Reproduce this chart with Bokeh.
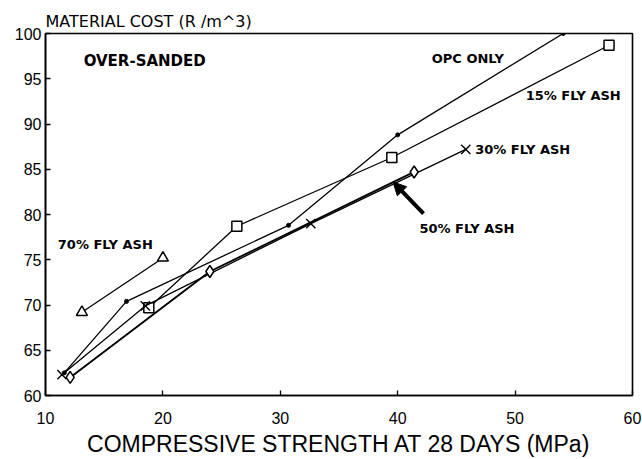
from bokeh.plotting import figure
from bokeh.models import Label, Arrow, NormalHead, FixedTicker
from bokeh.embed import file_html
from bokeh.resources import INLINE

# data
opc_x = [11.6, 16.9, 30.7, 40.0, 54.1]
opc_y = [62.5, 70.4, 78.8, 88.8, 100.0]
fa15_x = [18.8, 26.3, 39.5, 58.0]
fa15_y = [69.7, 78.7, 86.3, 98.7]
fa30_x = [11.4, 18.5, 32.6, 45.8]
fa30_y = [62.3, 69.9, 79.0, 87.2]
fa50_x = [12.1, 24.0, 41.4]
fa50_y = [62.0, 73.7, 84.7]
fa70_x = [13.1, 20.0]
fa70_y = [69.2, 75.2]
x_ticks = [10, 20, 30, 40, 50, 60]
y_ticks = [60, 65, 70, 75, 80, 85, 90, 95, 100]

FONT = "Liberation Sans"
BFONT = "DejaVu Sans"

p = figure(width=642, height=459, x_range=(10, 60), y_range=(60, 100),
           output_backend="svg", toolbar_location=None,
           min_border_left=45, min_border_right=10, min_border_top=33, min_border_bottom=0)
p.grid.visible = False
p.outline_line_color = "black"
p.outline_line_width = 1.6

p.title.text = "MATERIAL COST (R /m^3)"
p.title.text_font = BFONT
p.title.text_font_style = "normal"
p.title.text_font_size = "16px"
p.title.text_color = "black"
p.title.align = "left"
p.title.offset = 0
p.title.standoff = 6

for ax in (p.xaxis[0], p.yaxis[0]):
    ax.axis_line_color = "black"
    ax.axis_line_width = 1.6
    ax.major_tick_in = 5
    ax.major_tick_out = 0
    ax.major_tick_line_width = 1.3
    ax.minor_tick_line_color = None
    ax.major_label_text_font = FONT
    ax.major_label_text_font_size = "16px"
    ax.major_label_text_color = "black"

p.xaxis.ticker = FixedTicker(ticks=x_ticks)
p.yaxis.ticker = FixedTicker(ticks=y_ticks)
p.xaxis.major_label_standoff = 16
p.yaxis.major_label_standoff = 4
p.xaxis.axis_label = "COMPRESSIVE STRENGTH AT 28 DAYS (MPa)"
p.xaxis.axis_label_text_font = FONT
p.xaxis.axis_label_text_font_style = "normal"
p.xaxis.axis_label_text_font_size = "23px"
p.xaxis.axis_label_text_color = "black"
p.xaxis.axis_label_standoff = 4

lw = 1.3
p.line(opc_x, opc_y, color="black", line_width=lw)
p.scatter(opc_x, opc_y, marker="circle", size=4, color="black")

p.line(fa15_x, fa15_y, color="black", line_width=lw)
p.scatter(fa15_x, fa15_y, marker="square", size=10, fill_color="white", line_color="black", line_width=1.5)

p.line(fa30_x, fa30_y, color="black", line_width=lw)
p.scatter(fa30_x, fa30_y, marker="x", size=13, line_color="black", line_width=1.4)

p.line(fa50_x, fa50_y, color="black", line_width=lw + 0.6)
p.scatter(fa50_x, fa50_y, marker="diamond", size=12, fill_color="white", line_color="black", line_width=1.5)

p.line(fa70_x, fa70_y, color="black", line_width=lw)
p.scatter(fa70_x, fa70_y, marker="triangle", size=11, fill_color="white", line_color="black", line_width=1.5)

def lab(x, y, t, size="13px"):
    p.add_layout(Label(x=x, y=y, text=t, text_font=BFONT, text_font_style="bold",
                       text_font_size=size, text_baseline="middle", text_color="black"))

lab(13.25, 97.0, "OVER-SANDED", "15px")
lab(42.9, 97.2, "OPC ONLY")
lab(50.9, 93.2, "15% FLY ASH")
lab(46.6, 87.2, "30% FLY ASH")
lab(41.85, 78.5, "50% FLY ASH")
lab(11.05, 76.7, "70% FLY ASH")

p.add_layout(Arrow(end=NormalHead(size=13, fill_color="black", line_color="black"),
                   x_start=42.2, y_start=80.1, x_end=39.6, y_end=83.6,
                   line_width=4, line_color="black"))

open("out.html", "w").write(file_html(p, INLINE))
